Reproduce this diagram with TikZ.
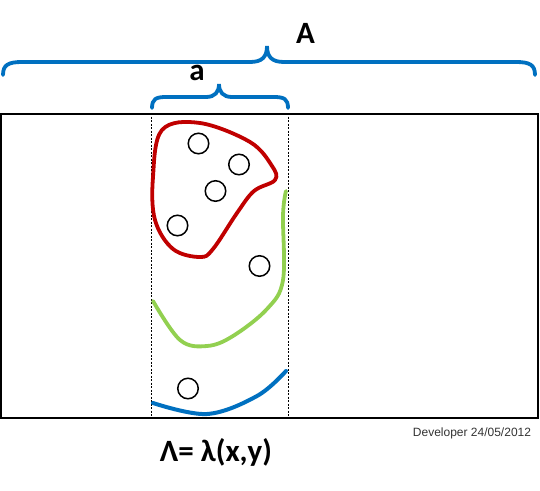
\documentclass[tikz,border=0pt]{standalone}
\usepackage{fontspec}
\setmainfont{Carlito}
\newfontfamily\devfont{Liberation Sans}
\definecolor{bracecol}{RGB}{0,112,192}
\definecolor{redcol}{RGB}{192,0,0}
\definecolor{greencol}{RGB}{146,208,80}
\definecolor{bluecol}{RGB}{0,112,192}
\begin{document}
\begin{tikzpicture}[x=1pt,y=-1pt,
  bracestyle/.style={draw=bracecol,line width=3.8pt,line cap=round},
  dot/.style={circle,draw=black,line width=1.5pt,minimum size=20.5pt,inner sep=0pt},
  bigtext/.style={font=\fontsize{31}{31}\selectfont\bfseries,inner sep=0pt},
  region/.style={line width=3.8pt,line cap=round,line join=round}]
\useasboundingbox (0,0) rectangle (540,490);
% frame
\node[draw=black,line width=1.6pt,minimum width=537pt,minimum height=304pt,inner sep=0pt] (frame) at (269.5,266) {};
% dashed strip lines
\coordinate (d1t) at (151,113); \coordinate (d1b) at (151,418);
\coordinate (d2t) at (288,113); \coordinate (d2b) at (288,418);
\draw[line width=0.7pt,dash pattern=on 2pt off 1.5pt] (d1t) -- (d1b);
\draw[line width=0.7pt,dash pattern=on 2pt off 1.5pt] (d2t) -- (d2b);
% big brace
\draw[bracestyle] (3,75) .. controls (3,65) and (8,62) .. (22,62) -- (250,62)
  .. controls (262,62) and (267,57) .. (267,46)
  .. controls (267,57) and (272,62) .. (284,62) -- (516,62)
  .. controls (530,62) and (535,65) .. (535,75);
% small brace
\draw[bracestyle] (152,108) .. controls (152,99) and (156,97) .. (166,97) -- (206,97)
  .. controls (215,97) and (219,92) .. (219,84)
  .. controls (219,92) and (223,97) .. (232,97) -- (274,97)
  .. controls (284,97) and (288,99) .. (288,108);
\node[bigtext] (A) at (305.5,33) {A};
\node[bigtext] (a) at (197,73) {a};
% red region
\draw[region,redcol] plot[smooth cycle,tension=0.6] coordinates {
  (162,130) (200,123) (250,142) (272,166) (275,180) (254,191) (237,213)
  (213,249) (200,257) (173,249) (155,220) (153,177)};
% green curve
\draw[region,greencol] plot[smooth,tension=0.6] coordinates {
  (286,191) (283,215) (283,280) (267,309) (233,336) (207,346) (180,340) (153,301)};
% blue curve
\draw[region,bluecol,line width=4pt] plot[smooth,tension=0.6] coordinates {
  (286,371) (257,396) (207,414) (153,403)};
% circles
\node[dot] (c1) at (198.5,143.5) {};
\node[dot] (c2) at (239,164.5) {};
\node[dot] (c3) at (215.5,191) {};
\node[dot] (c4) at (177.5,225.5) {};
\node[dot] (c5) at (259.5,266) {};
\node[dot] (c6) at (188,388.5) {};
% texts
\node[bigtext] (lam) at (216,452) {Λ= λ(x,y)};
\node[font=\devfont\fontsize{12}{12}\selectfont,text=black!80,inner sep=0pt] (dev) at (472,433.5) {Developer 24/05/2012};
\end{tikzpicture}
\end{document}
